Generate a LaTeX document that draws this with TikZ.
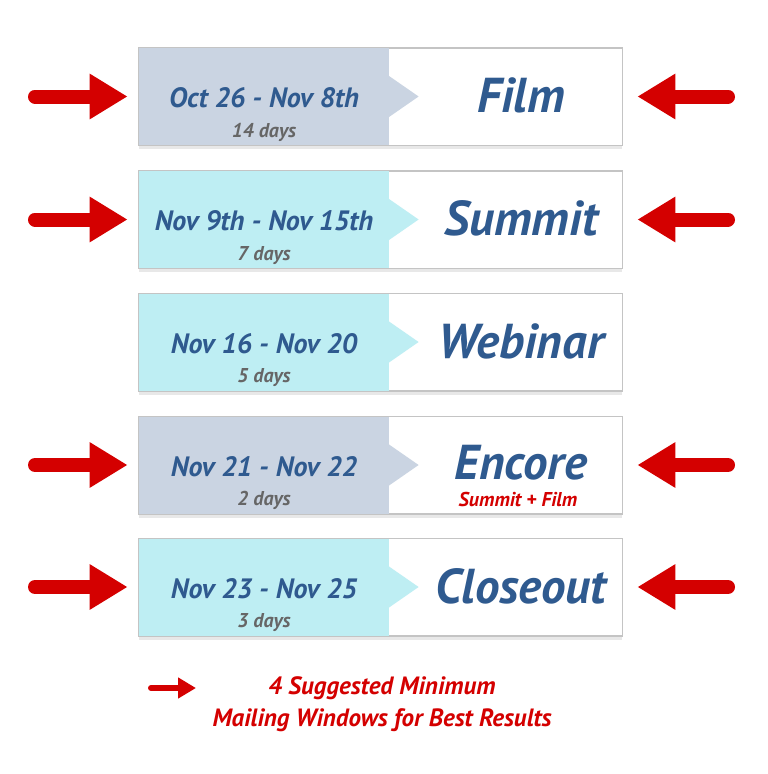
\documentclass[tikz,border=0pt]{standalone}
\usepackage{fontspec}
\setmainfont{PT Sans}
\usetikzlibrary{arrows.meta,shadows}
\definecolor{tblue}{HTML}{2F5A8F}
\definecolor{grayfill}{HTML}{CAD4E2}
\definecolor{cyanfill}{HTML}{BEEEF3}
\definecolor{daygray}{HTML}{666666}
\definecolor{mred}{HTML}{D40000}
\definecolor{boxline}{HTML}{C4C4C4}
\begin{document}
\begin{tikzpicture}[x=1pt,y=-1pt,
  rowbox/.style={draw=boxline, line width=0.8pt, fill=white, minimum width=483pt,
    minimum height=97pt, inner sep=0pt,
    drop shadow={opacity=0.18, shadow xshift=0pt, shadow yshift=-4pt}},
  datetext/.style={font=\fontsize{28}{28}\selectfont\bfseries\itshape, text=tblue, anchor=base, inner sep=0pt},
  daystext/.style={font=\fontsize{20}{20}\selectfont\bfseries\itshape, text=daygray, anchor=base, inner sep=0pt},
  titletext/.style={font=\fontsize{49}{49}\selectfont\bfseries\itshape, text=tblue, anchor=base, inner sep=0pt},
  subtext/.style={font=\fontsize{20}{20}\selectfont\bfseries\itshape, text=mred, anchor=base, inner sep=0pt},
  legendtext/.style={font=\fontsize{25}{31.5}\selectfont\bfseries\itshape, text=mred, align=center},
  bigarrow/.style={draw=mred, line width=14pt, line cap=round,
    -{Triangle[length=38pt,width=43pt]}},
  smallarrow/.style={draw=mred, line width=6pt, line cap=round,
    -{Triangle[length=18pt,width=20pt]}}
]
\useasboundingbox (0,0) rectangle (768,774);
\fill[white] (0,0) rectangle (768,774);

% rows: name / center y / fill colour
\foreach \n/\cy/\col in {r1/96.5/grayfill, r2/219.5/cyanfill, r3/342/cyanfill, r4/465/grayfill, r5/587/cyanfill}{
  \node[rowbox] (\n) at (380.5,\cy) {};
  \fill[\col] ([shift={(0.4pt,-0.4pt)}]\n.north west) rectangle ([xshift=250pt,yshift=0.4pt]\n.south west);
  \fill[\col] ([xshift=250pt]\n.west) ++(-1,-21.5) -- ++(31,21.5) -- ++(-31,21.5) -- cycle;
  \draw[boxline, line width=0.8pt] (\n.north west) rectangle (\n.south east);
}

% texts
\node[datetext] (d1) at (264,107.5) {Oct 26 - Nov 8th};
\node[daystext] (y1) at (264,137) {14 days};
\node[titletext] (t1) at (521,112.5) {Film};

\node[datetext] (d2) at (264,230.5) {Nov 9th - Nov 15th};
\node[daystext] (y2) at (264,260) {7 days};
\node[titletext] (t2) at (521,235.5) {Summit};

\node[datetext] (d3) at (264,353) {Nov 16 - Nov 20};
\node[daystext] (y3) at (264,382.5) {5 days};
\node[titletext] (t3) at (521,358) {Webinar};

\node[datetext] (d4) at (264,476) {Nov 21 - Nov 22};
\node[daystext] (y4) at (264,505.5) {2 days};
\node[titletext] (t4) at (521,479) {Encore};
\node[subtext] (s4) at (518,506.5) {Summit + Film};

\node[datetext] (d5) at (264,598) {Nov 23 - Nov 25};
\node[daystext] (y5) at (264,627.5) {3 days};
\node[titletext] (t5) at (521,603) {Closeout};

% arrows
\foreach \n in {r1,r2,r4,r5}{
  \coordinate (tl\n) at ([xshift=-11pt]\n.west);
  \coordinate (tr\n) at ([xshift=15pt]\n.east);
  \coordinate (L\n) at (35,0 |- \n.center);
  \coordinate (R\n) at (728,0 |- \n.center);
  \draw[bigarrow] (L\n) -- (tl\n);
  \draw[bigarrow] (R\n) -- (tr\n);
}

% legend
\coordinate (lg1) at (151,688);
\coordinate (lg2) at (196,688);
\draw[smallarrow] (lg1) -- (lg2);
\node[legendtext] (leg) at (382,704) {4 Suggested Minimum\\Mailing Windows for Best Results};
\end{tikzpicture}
\end{document}
